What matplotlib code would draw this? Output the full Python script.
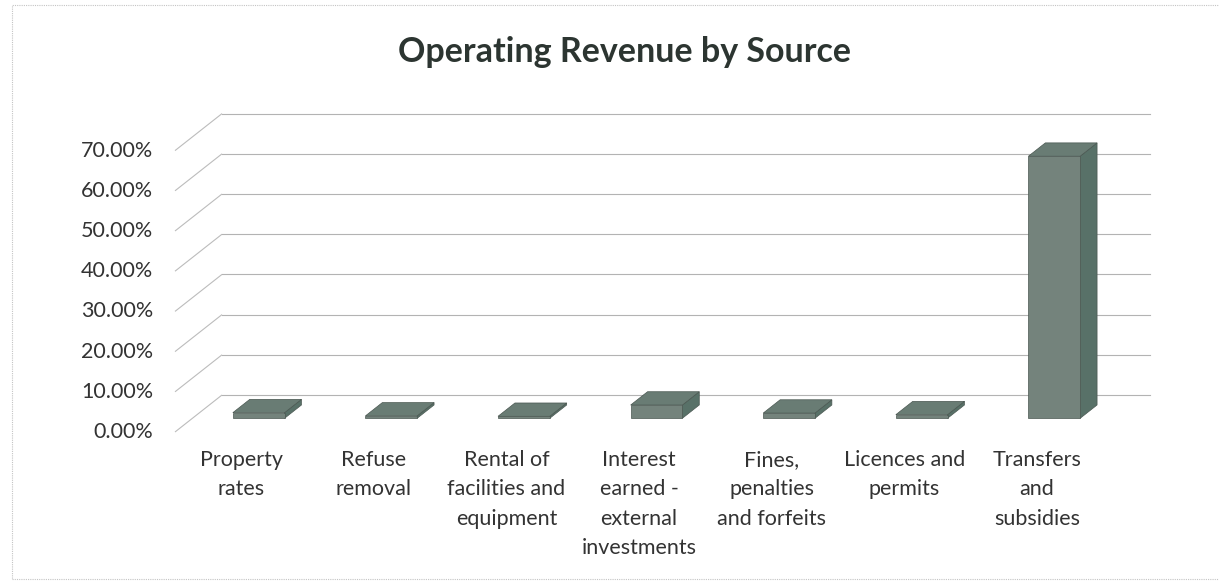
import numpy as np
import matplotlib
matplotlib.use("Agg")
import matplotlib.pyplot as plt
from matplotlib.patches import Polygon, Rectangle

plt.rcParams['font.family'] = ['Lato', 'DejaVu Sans']

# ---- data -------------------------------------------------------------
categories = [
    "Property\nrates",
    "Refuse\nremoval",
    "Rental of\nfacilities and\nequipment",
    "Interest\nearned -\nexternal\ninvestments",
    "Fines,\npenalties\nand forfeits",
    "Licences and\npermits",
    "Transfers\nand\nsubsidies",
]
shares = [1.4, 0.6, 0.5, 3.3, 1.3, 0.9, 65.2]          # percent of operating revenue
tick_values = [0, 10, 20, 30, 40, 50, 60, 70]
tick_labels = [f"{v:.2f}%" for v in tick_values]
title = "Operating Revenue by Source"

# ---- pseudo-3D geometry (oblique projection) ---------------------------
W, H = 1219, 582
X0_PX, Y0_PX = 175, 432          # front-left corner of the floor (pixels)
CAT_PX = 132.6                   # pixels per category
PCT_PX = 4.02                    # pixels per percentage point
DEPTH_DX = 47 / CAT_PX           # depth offset along x (category units)
DEPTH_DY = 37 / PCT_PX           # depth offset along y (percent units)
BAR_W = 0.39
D_FRONT, D_BACK = 0.37, 0.73     # bar position inside the floor depth

fig = plt.figure(figsize=(W / 100, H / 100), dpi=100)
ax = fig.add_axes([0, 0, 1, 1])
ax.set_xlim(-X0_PX / CAT_PX, (W - X0_PX) / CAT_PX)
ax.set_ylim(-(H - Y0_PX) / PCT_PX, Y0_PX / PCT_PX)
ax.axis('off')

n = len(categories)
grid_col = '#b3b3b3'

# walls: diagonal side-wall lines and back-wall gridlines
for v in tick_values:
    ax.plot([0, DEPTH_DX], [v, v + DEPTH_DY], color='#bcbcbc', lw=0.8,
            solid_capstyle='butt', zorder=1)
    ax.plot([DEPTH_DX, n + DEPTH_DX], [v + DEPTH_DY, v + DEPTH_DY],
            color=grid_col, lw=0.8, zorder=1)


def shifted(x, y, d):
    return (x + d * DEPTH_DX, y + d * DEPTH_DY)


front_col = '#74837c'
top_col = '#697c74'
side_col = '#587168'
edge_col = '#4a5751'

for i, val in enumerate(shares):
    xl = i + 0.5 - BAR_W / 2
    xr = i + 0.5 + BAR_W / 2
    # corner points at the front and back of the bar
    fbl = shifted(xl, 0, D_FRONT)
    fbr = shifted(xr, 0, D_FRONT)
    ftl = shifted(xl, val, D_FRONT)
    ftr = shifted(xr, val, D_FRONT)
    bbr = shifted(xr, 0, D_BACK)
    btl = shifted(xl, val, D_BACK)
    btr = shifted(xr, val, D_BACK)
    side = Polygon([fbr, bbr, btr, ftr], closed=True, fc=side_col,
                   ec=edge_col, lw=0.5, zorder=3)
    top = Polygon([ftl, ftr, btr, btl], closed=True, fc=top_col,
                  ec=edge_col, lw=0.5, zorder=3)
    front = Polygon([fbl, fbr, ftr, ftl], closed=True, fc=front_col,
                    ec=edge_col, lw=0.5, zorder=4)
    for p in (side, top, front):
        ax.add_patch(p)

# value axis labels
label_x = (153 - X0_PX) / CAT_PX
for v, lab in zip(tick_values, tick_labels):
    ax.text(label_x, v, lab, ha='right', va='center', fontsize=15.5,
            color='#333333')

# category labels
cat_y = -(450 - Y0_PX) / PCT_PX
for i, lab in enumerate(categories):
    ax.text(i + 0.5, cat_y, lab, ha='center', va='top', fontsize=15.5,
            color='#333333', linespacing=1.58)

# chart title
fig.text(625 / W, 1 - 52 / H, title, ha='center', va='center',
         fontsize=24.5, fontweight='bold', color='#2c3531')

# chart-area border
fig.patches.append(Rectangle((12 / W, 3 / H), 1.2, 1 - 8 / H,
                             transform=fig.transFigure, fill=False,
                             ec='#c4c4c4', lw=0.8, ls=(0, (1, 1))))

fig.savefig("out.png", dpi=100)
